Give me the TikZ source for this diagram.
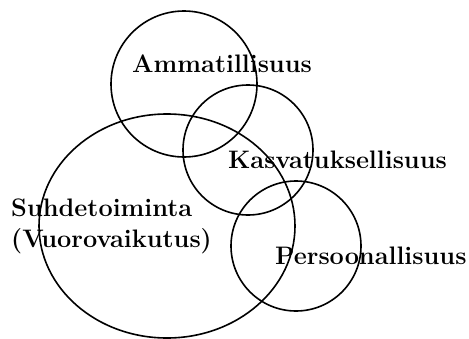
\documentclass[tikz,border=0pt]{standalone}
\usepackage{fontspec}
\usetikzlibrary{shapes.geometric}
\tikzset{
  ring/.style={draw, line width=1.6pt, circle, inner sep=0pt},
  oval/.style={draw, line width=1.6pt, ellipse, inner sep=0pt},
  lbl/.style={anchor=base west, inner sep=0pt, font=\fontsize{25.3}{30}\selectfont\bfseries}
}
\begin{document}
\begin{tikzpicture}[x=1pt, y=-1pt]
  \useasboundingbox (0,0) rectangle (469,338);
  % the four overlapping areas
  \node[oval, minimum width=256pt, minimum height=224pt] (suhde) at (167,226) {};
  \node[ring, minimum size=146pt] (amm) at (184,84) {};
  \node[ring, minimum size=130pt] (kasv) at (248,150) {};
  \node[ring, minimum size=130pt] (pers) at (296,246) {};
  % labels
  \node[lbl] (tamm) at (132,72) {Ammatillisuus};
  \node[lbl] (tkasv) at (228,168) {Kasvatuksellisuus};
  \node[lbl] (tsuhde) at (11,216) {Suhdetoiminta};
  \node[lbl] (tvuoro) at (11,247) {(Vuorovaikutus)};
  \node[lbl] (tpers) at (275,264) {Persoonallisuus};
\end{tikzpicture}
\end{document}
